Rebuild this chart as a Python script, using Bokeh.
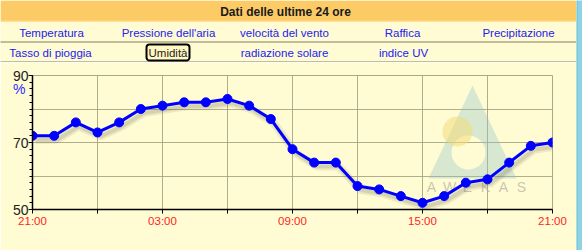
import numpy as np
from bokeh.plotting import figure
from bokeh.layouts import column, row
from bokeh.models import Range1d, FixedTicker, LinearAxis
from bokeh.core.properties import value
from bokeh.embed import file_html
from bokeh.resources import INLINE

# ---------------- data ----------------
hours = list(range(0, 25))
humidity = [72, 72, 76, 73, 76, 80, 81, 82, 82, 83, 81, 77, 68, 64, 64,
            57, 56, 54, 52, 54, 58, 59, 64, 69, 70]
x_tick_pos = [0, 3, 6, 9, 12, 15, 18, 21, 24]
x_tick_labels = ["21:00", "", "03:00", "", "09:00", "", "15:00", "", "21:00"]
y_major = [50, 70, 90]
y_grid = [60, 70, 80]
unit_label = "%"

title_text = "Dati delle ultime 24 ore"
menu_row1 = ["Temperatura", "Pressione dell'aria", "velocità del vento", "Raffica", "Precipitazione"]
menu_row2 = ["Tasso di pioggia", "Umidità", "radiazione solare", "indice UV"]

FONT = value("Liberation Sans")
BG = "#FFFBD3"
BLUE_TXT = "#2222F2"

# ---------------- header ----------------
W = 576
hdr = figure(width=W, height=62, x_range=Range1d(0, W), y_range=Range1d(62, 0),
             toolbar_location=None, output_backend="svg", min_border=0)
hdr.frame_align = False
hdr.axis.visible = False
hdr.grid.visible = False
hdr.outline_line_color = None
hdr.background_fill_color = BG
hdr.border_fill_color = BG
hdr.quad(left=[0], right=[W], top=[0], bottom=[21], fill_color="#FCCB66", line_color=None)
hdr.segment(x0=[0], x1=[W], y0=[20.5], y1=[20.5], line_color="#FDDB8E", line_width=1)
hdr.text(x=[285], y=[11], text=[title_text], text_font=FONT, text_font_size="12px",
         text_font_style="bold", text_color="#1a1a1a", text_align="center", text_baseline="middle")
hdr.text(x=[51, 168, 284, 402, 518], y=[32] * 5, text=menu_row1, text_font=FONT,
         text_font_size="11.5px", text_color=BLUE_TXT, text_align="center", text_baseline="middle")
hdr.text(x=[50, 284, 403], y=[52] * 3, text=[menu_row2[0], menu_row2[2], menu_row2[3]], text_font=FONT,
         text_font_size="11.5px", text_color=BLUE_TXT, text_align="center", text_baseline="middle")
hdr.text(x=[167.5], y=[52], text=[menu_row2[1]], text_font=FONT, text_font_size="11.5px",
         text_color="#2a2016", text_align="center", text_baseline="middle",
         border_line_color="black", border_line_width=2, background_fill_color="#FFF8C4",
         padding=2, border_radius=3)
hdr.segment(x0=[0, 0], x1=[W, W], y0=[41.5, 61.5], y1=[41.5, 61.5],
            line_color="black", line_width=1, line_dash="1 1")

# ---------------- chart ----------------
p = figure(width=W, height=188, x_range=Range1d(0, 24), y_range=Range1d(50, 90),
           toolbar_location=None, output_backend="svg",
           min_border_left=32, min_border_right=24, min_border_top=13, min_border_bottom=41)
p.frame_align = False
p.background_fill_color = BG
p.border_fill_color = BG
p.outline_line_color = "#a8a88a"

# decoration helpers (pixel -> data) for the watermark only
def px(xp):
    return (xp - 32) * 24 / 520.0
def py(yp):
    return 90 - (yp - 75) * 40 / 134.0

# watermark (AWEKAS logo)
tri_x = [px(472), px(428), px(516)]
tri_y = [py(85), py(178), py(178)]
ang = np.linspace(0, 2 * np.pi, 40)
hole_x = list(px(468 + 17 * np.cos(ang)))
hole_y = list(py(152 + 17 * np.sin(ang)))
p.multi_polygons(xs=[[[tri_x, hole_x]]], ys=[[[tri_y, hole_y]]],
                 fill_color="#8EC3C8", fill_alpha=0.35, line_color=None)
p.scatter(x=[px(457)], y=[py(131)], size=30, marker="circle",
          fill_color="#F2DC7A", fill_alpha=0.55, line_color=None)
letters = list("AWEKAS")
p.text(x=[px(431 + 18 * i) for i in range(6)], y=[py(186)] * 6, text=letters, text_font=FONT,
       text_font_size="14px", text_color="#B0B0A0", text_alpha=0.7, text_align="center",
       text_baseline="middle")

# axes styling
xa = p.xaxis[0]
xa.ticker = FixedTicker(ticks=x_tick_pos, minor_ticks=[])
xa.major_label_overrides = {t: l for t, l in zip(x_tick_pos, x_tick_labels)}
xa.major_label_text_color = "#FF1E1E"
xa.major_label_text_font = "Liberation Sans"
xa.major_label_text_font_size = "11.5px"
xa.major_tick_out = 4
xa.major_tick_in = 0
xa.major_label_standoff = 1
xa.axis_line_color = "black"
xa.axis_line_width = 1.5
xa.major_tick_line_color = "black"

ya = p.yaxis[0]
ya.ticker = FixedTicker(ticks=y_major, minor_ticks=list(range(50, 91, 2)))
ya.major_label_text_color = "#222222"
ya.major_label_text_font = "Liberation Sans"
ya.major_label_text_font_size = "14px"
ya.major_tick_out = 4
ya.major_tick_in = 0
ya.minor_tick_out = 3
ya.minor_tick_in = 0
ya.major_label_standoff = 0
ya.axis_line_color = "black"
ya.axis_line_width = 1.5

# unit "%" as a second, line-less left axis pulled in under the "90" label
ua = LinearAxis(ticker=FixedTicker(ticks=[86], minor_ticks=[]),
                major_label_overrides={86: unit_label})
ua.axis_line_color = None
ua.major_tick_line_color = None
ua.minor_tick_line_color = None
ua.major_tick_out = 0
ua.major_tick_in = 0
ua.major_label_standoff = -16
ua.major_label_text_color = "#2a2aff"
ua.major_label_text_font = "Liberation Sans"
ua.major_label_text_font_size = "14px"
p.add_layout(ua, "left")

p.xgrid.ticker = FixedTicker(ticks=x_tick_pos[1:-1])
p.ygrid.ticker = FixedTicker(ticks=y_grid)
p.grid.grid_line_color = "#9c9c7c"
p.grid.grid_line_alpha = 0.8

# shadow + series
dx = 3 * 24 / 520.0
dy = 4 * 40 / 134.0
sx = [h + dx for h in hours]
sy = [v - dy for v in humidity]
p.line(sx, sy, line_color="#6e6a50", line_width=8, line_alpha=0.12)
p.line(sx, sy, line_color="#6e6a50", line_width=4, line_alpha=0.18)
p.line(hours, humidity, line_color="#0000FF", line_width=3)
p.scatter(hours, humidity, size=9, marker="circle", fill_color="#0000FF", line_color="#0000FF")

# right blue strip
strip = figure(width=6, height=250, toolbar_location=None, output_backend="svg", min_border=0,
               x_range=Range1d(0, 6), y_range=Range1d(0, 250))
strip.frame_align = False
strip.axis.visible = False
strip.grid.visible = False
strip.outline_line_color = None
strip.background_fill_color = "#8FD4E4"
strip.border_fill_color = "#8FD4E4"
strip.segment(x0=[0.5], x1=[0.5], y0=[0], y1=[250], line_color="#6BB7C9", line_width=1)

layout = row(column(hdr, p, spacing=0), strip, spacing=0)
open("out.html", "w").write(file_html(layout, INLINE))
